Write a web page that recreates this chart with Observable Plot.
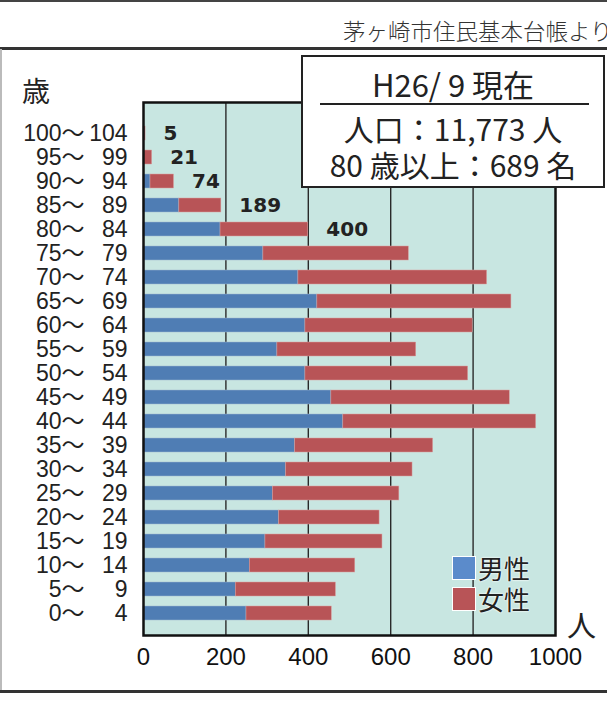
<!DOCTYPE html>
<html>
<head>
<meta charset="utf-8">
<script src="https://cdn.jsdelivr.net/npm/d3@7"></script>
<script src="https://cdn.jsdelivr.net/npm/@observablehq/plot@0.6"></script>
<style>
  html, body { margin: 0; padding: 0; background: #fff; overflow: hidden; }
  #wrap { position: relative; width: 607px; height: 701px; overflow: hidden; font-family: "Liberation Sans", "Noto Sans CJK JP", sans-serif; }
  #chart { position: absolute; left: 0; top: 0; }
  .abs { position: absolute; }
  .jp { font-family: "Noto Sans CJK JP", sans-serif; }
</style>
</head>
<body>
<div id="wrap">
  <div id="chart"></div>
  <div class="abs" style="left:0;top:0;width:607px;height:2px;background:#444"></div>
  <div class="abs" style="left:0;top:47px;width:607px;height:2.5px;background:#333"></div>
  <div class="abs" style="left:0;top:49px;width:1.5px;height:641px;background:#bbb"></div>
  <div class="abs" style="left:0;top:690px;width:607px;height:3px;background:#333"></div>
  <div id="source" class="abs jp" style="left:343px;top:14px;font-size:22.5px;color:#333;white-space:nowrap;font-weight:300"></div>
  <div id="yunit" class="abs jp" style="left:22px;top:70px;font-size:28px;color:#222;line-height:40px"></div>
  <div id="xunit" class="abs jp" style="left:567px;top:604px;font-size:29px;color:#222;line-height:40px"></div>
  <div id="infobox" class="abs" style="left:301px;top:55px;width:304px;height:133px;border:2px solid #222;background:#fff;box-sizing:border-box">
    <div id="info1" class="abs jp" style="left:0;width:300px;top:9px;text-align:center;font-size:31px;line-height:36px;color:#222"></div>
    <div class="abs" style="left:17px;top:46px;width:269px;height:1.5px;background:#222"></div>
    <div id="info2" class="abs jp" style="left:0;width:300px;top:54px;text-align:center;font-size:30px;line-height:34px;color:#222"></div>
    <div id="info3" class="abs jp" style="left:0;width:300px;top:90px;text-align:center;font-size:30px;line-height:34px;color:#222"></div>
  </div>
  <div id="legend" class="abs jp" style="left:452px;top:552px;font-size:26px;color:#222;line-height:26px"></div>
</div>
<script>
// ---- data ----
const ageFrom = [100, 95, 90, 85, 80, 75, 70, 65, 60, 55, 50, 45, 40, 35, 30, 25, 20, 15, 10, 5, 0];
const ageTo   = [104, 99, 94, 89, 84, 79, 74, 69, 64, 59, 54, 49, 44, 39, 34, 29, 24, 19, 14, 9, 4];
const male    = [0, 0, 17, 87, 187, 291, 376, 422, 393, 325, 393, 456, 485, 368, 346, 314, 329, 296, 258, 224, 250];
const female  = [5, 21, 57, 102, 213, 353, 458, 471, 406, 337, 395, 433, 468, 335, 307, 307, 244, 284, 256, 243, 207];
const totalLabels = [5, 21, 74, 189, 400]; // labelled totals for the top five groups
const xTicks = [0, 200, 400, 600, 800, 1000];
const gridValues = [200, 400, 600, 800];
const seriesNames = ["男性", "女性"];
const colors = ["#4f7db4", "#b85457"];
const legendColors = ["#5b8bcb", "#b85457"];
const sourceText = "茅ヶ崎市住民基本台帳より";
const yUnit = "歳";
const xUnit = "人";
const infoLines = ["H26/ 9 現在", "人口：11,773 人", "80 歳以上：689 名"];

// ---- table ----
const rows = ageFrom.map((f, i) => ({
  label: `${f}〜${ageTo[i]}`,
  from: `${f}〜`,
  to: `${ageTo[i]}`,
  male: male[i],
  female: female[i],
  total: male[i] + female[i]
}));
const labelled = rows.slice(0, totalLabels.length).map((r, i) => ({...r, text: String(totalLabels[i])}));

const chart = Plot.plot({
  width: 607,
  height: 701,
  marginLeft: 143,
  marginRight: 52,
  marginTop: 102,
  marginBottom: 66,
  style: {background: "transparent", fontFamily: "Liberation Sans, Noto Sans CJK JP, sans-serif"},
  x: {domain: [0, 1000], axis: null},
  y: {domain: rows.map(d => d.label), range: [112.6, 632.4], padding: 0.42, axis: null},
  marks: [
    Plot.frame({fill: "#c8e6e1", stroke: null}),
    Plot.ruleX(gridValues, {stroke: "#2a2a2a", strokeWidth: 1.4}),
    Plot.barX(rows, {x1: 0, x2: "male", y: "label", fill: colors[0], stroke: "#9fb8d0", strokeWidth: 0.5}),
    Plot.barX(rows, {x1: "male", x2: d => d.male + d.female, y: "label", fill: colors[1], stroke: "#d9a0a0", strokeWidth: 0.5}),
    Plot.frame({stroke: "#111", strokeWidth: 2.5}),
    Plot.text(rows, {y: "label", text: "from", frameAnchor: "left", dx: -59, textAnchor: "end", fontSize: 23, fill: "#222"}),
    Plot.text(rows, {y: "label", text: "to", frameAnchor: "left", dx: -16, textAnchor: "end", fontSize: 23, fill: "#222"}),
    Plot.text(labelled, {x: "total", y: "label", text: "text", dx: 18, textAnchor: "start", fontSize: 20, fontWeight: "bold", fill: "#222", fontFamily: "DejaVu Sans, sans-serif", letterSpacing: 1.5}),
    Plot.axisX(xTicks, {anchor: "bottom", tickSize: 0, tickPadding: 12, fontSize: 24, fill: "#111", tickFormat: d => String(d)})
  ]
});
document.getElementById("chart").appendChild(chart);

document.getElementById("source").textContent = sourceText;
document.getElementById("yunit").textContent = yUnit;
document.getElementById("xunit").textContent = xUnit;
document.getElementById("info1").textContent = infoLines[0];
document.getElementById("info2").textContent = infoLines[1];
document.getElementById("info3").textContent = infoLines[2];

const legend = document.getElementById("legend");
seriesNames.forEach((name, i) => {
  const row = document.createElement("div");
  row.style.display = "flex";
  row.style.alignItems = "center";
  row.style.height = "31px";
  const sw = document.createElement("span");
  sw.style.display = "inline-block";
  sw.style.width = "22px";
  sw.style.height = "22px";
  sw.style.background = legendColors[i];
  sw.style.border = "1.5px solid #fff";
  sw.style.marginRight = "2px";
  const t = document.createElement("span");
  t.textContent = name;
  t.style.lineHeight = "26px";
  t.style.textShadow = "0 0 2px #fff, 0 0 2px #fff";
  row.appendChild(sw);
  row.appendChild(t);
  legend.appendChild(row);
});
</script>
</body>
</html>
